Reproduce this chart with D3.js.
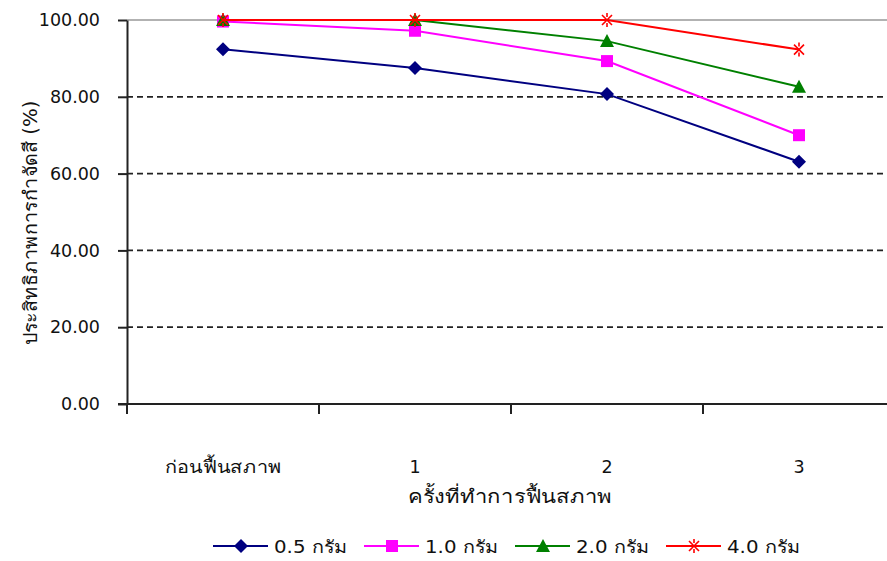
<!DOCTYPE html>
<html>
<head>
<meta charset="utf-8">
<script src="https://cdn.jsdelivr.net/npm/d3@7"></script>
<style>
  html, body { margin: 0; padding: 0; background: #fff; }
  svg { display: block; }
  text { font-family: "DejaVu Sans", Verdana, sans-serif; fill: #111; }
</style>
</head>
<body>
<svg id="chart" width="887" height="561"></svg>
<script>
// Categories on the x axis (regeneration rounds)
const categories = ["ก่อนฟื้นสภาพ", "1", "2", "3"];

// Colour-removal efficiency (%) per adsorbent dose
const series05 = [92.4, 87.5, 80.7, 63.1];
const series10 = [99.6, 97.2, 89.3, 70.0];
const series20 = [100.0, 100.0, 94.5, 82.6];
const series40 = [100.0, 100.0, 100.0, 92.3];

const seriesNames = ["0.5 กรัม", "1.0 กรัม", "2.0 กรัม", "4.0 กรัม"];
const yTicks = [0, 20, 40, 60, 80, 100];

const series = [
  { name: seriesNames[0], values: series05, color: "#000080", marker: "diamond" },
  { name: seriesNames[1], values: series10, color: "#FF00FF", marker: "square" },
  { name: seriesNames[2], values: series20, color: "#008000", marker: "triangle" },
  { name: seriesNames[3], values: series40, color: "#FF0000", marker: "star" }
];

const W = 887;
const svg = d3.select("#chart");
const plot = { left: 127, top: 20, bottom: 404, right: 895 };

const x = d3.scaleBand().domain(categories).range([plot.left, plot.right]);
const y = d3.scaleLinear().domain([0, 100]).range([plot.bottom, plot.top]);
const cx = c => x(c) + x.bandwidth() / 2;

// dashed gridlines
svg.append("g")
  .selectAll("line")
  .data(yTicks.filter(d => d > 0 && d < 100))
  .join("line")
  .attr("x1", plot.left).attr("x2", W)
  .attr("y1", d => y(d)).attr("y2", d => y(d))
  .attr("stroke", "#222").attr("stroke-width", 1.8)
  .attr("stroke-dasharray", "6,4");

// plot-area border on top
svg.append("line")
  .attr("x1", plot.left).attr("x2", W)
  .attr("y1", y(100)).attr("y2", y(100))
  .attr("stroke", "#999").attr("stroke-width", 1.6);

// y axis
const yAxis = d3.axisLeft(y).tickValues(yTicks).tickSize(9).tickSizeOuter(0)
  .tickFormat(d3.format(".2f")).tickPadding(18);
const gy = svg.append("g").attr("transform", `translate(${plot.left},0)`).call(yAxis);
gy.select(".domain").attr("stroke", "#222").attr("stroke-width", 2);
gy.selectAll(".tick line").attr("stroke", "#222").attr("stroke-width", 2);
gy.selectAll(".tick text").attr("font-size", 17.5).attr("font-family", null).attr("fill", "#111");

// x axis: ticks at band boundaries, labels at band centres
svg.append("line")
  .attr("x1", plot.left - 9).attr("x2", W)
  .attr("y1", plot.bottom).attr("y2", plot.bottom)
  .attr("stroke", "#222").attr("stroke-width", 2);
const bounds = categories.map(c => x(c)).concat([x(categories[categories.length - 1]) + x.bandwidth()]);
svg.append("g").selectAll("line")
  .data(bounds.filter(b => b <= W))
  .join("line")
  .attr("x1", d => d).attr("x2", d => d)
  .attr("y1", plot.bottom).attr("y2", plot.bottom + 10)
  .attr("stroke", "#222").attr("stroke-width", 2);
svg.append("g").selectAll("text")
  .data(categories)
  .join("text")
  .attr("x", d => cx(d))
  .attr("y", 473)
  .attr("text-anchor", "middle")
  .attr("font-size", 17.5)
  .each(function (d) {
    if (d.length > 2) d3.select(this).attr("textLength", 117).attr("lengthAdjust", "spacingAndGlyphs");
  })
  .text(d => d);

// axis titles
svg.append("text")
  .attr("x", 510).attr("y", 503)
  .attr("text-anchor", "middle").attr("font-size", 19)
  .attr("textLength", 205).attr("lengthAdjust", "spacingAndGlyphs")
  .text("ครั้งที่ทำการฟื้นสภาพ");
svg.append("text")
  .attr("transform", `translate(37,223) rotate(-90)`)
  .attr("text-anchor", "middle").attr("font-size", 19)
  .attr("textLength", 245).attr("lengthAdjust", "spacingAndGlyphs")
  .text("ประสิทธิภาพการกำจัดสี (%)");

// marker drawing
function drawMarker(g, type, color) {
  if (type === "diamond") {
    g.append("path").attr("d", "M0,-7L7,0L0,7L-7,0Z").attr("fill", color);
  } else if (type === "square") {
    g.append("rect").attr("x", -6).attr("y", -6).attr("width", 12).attr("height", 12).attr("fill", color);
  } else if (type === "triangle") {
    g.append("path").attr("d", "M0,-7L7,6L-7,6Z").attr("fill", color);
  } else {
    g.append("path").attr("d", "M-5,-5L5,5M-5,5L5,-5M0,-7L0,-3M0,3L0,7")
      .attr("stroke", color).attr("stroke-width", 1.6).attr("fill", "none");
  }
}

const line = d3.line().x((d, i) => cx(categories[i])).y(d => y(d));

series.forEach(s => {
  svg.append("path")
    .attr("d", line(s.values))
    .attr("fill", "none").attr("stroke", s.color).attr("stroke-width", 2);
  s.values.forEach((v, i) => {
    const g = svg.append("g").attr("transform", `translate(${cx(categories[i])},${y(v)})`);
    drawMarker(g, s.marker, s.color);
  });
});

// legend
const legendStart = 213, legendStep = 151, legendY = 546;
series.forEach((s, i) => {
  const g = svg.append("g").attr("transform", `translate(${legendStart + i * legendStep},${legendY})`);
  g.append("line").attr("x1", 0).attr("x2", 55).attr("y1", 0).attr("y2", 0)
    .attr("stroke", s.color).attr("stroke-width", 2);
  drawMarker(g.append("g").attr("transform", "translate(28,0)"), s.marker, s.color);
  g.append("text").attr("x", 61).attr("y", 7).attr("font-size", 17.5)
    .attr("textLength", 74).attr("lengthAdjust", "spacingAndGlyphs")
    .text(s.name);
});
</script>
</body>
</html>
